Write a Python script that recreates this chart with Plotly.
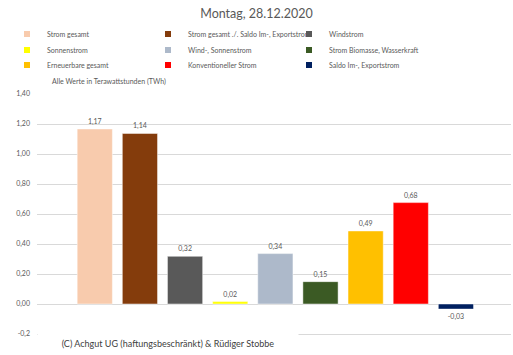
import plotly.graph_objects as go

series_names = [
    "Strom gesamt",
    "Strom gesamt ./. Saldo Im-, Exportstrom",
    "Windstrom",
    "Sonnenstrom",
    "Wind-, Sonnenstrom",
    "Strom Biomasse, Wasserkraft",
    "Erneuerbare gesamt",
    "Konventioneller Strom",
    "Saldo Im-, Exportstrom",
]
values = [1.167, 1.137, 0.318, 0.016, 0.336, 0.149, 0.487, 0.676, -0.034]
colors = ["#F8CBAD", "#843C0C", "#595959", "#FFFF00", "#ADB9CA",
          "#3B5A24", "#FFC000", "#FF0000", "#002060"]
tick_vals = [-0.2, 0.0, 0.2, 0.4, 0.6, 0.8, 1.0, 1.2, 1.4]
tick_text = ["-0,2", "0,00", "0,20", "0,40", "0,60", "0,80", "1,00", "1,20", "1,40"]

FONT = "Lato"
GREY = "#595959"
legend_ids = ["legend", "legend2", "legend3"]
legend_rows_px = [34, 50, 65]

fig = go.Figure()
for i, (name, v, c) in enumerate(zip(series_names, values, colors)):
    fig.add_trace(go.Bar(
        x=[i], y=[v], name=name, width=0.78,
        marker=dict(color=c, line=dict(color="rgba(255,255,255,0.6)", width=0.8)),
        texttemplate="%{y:.2f}", textposition="outside", cliponaxis=False,
        textfont=dict(size=7, color=GREY, family=FONT),
        showlegend=False, hoverinfo="skip",
    ))
    fig.add_trace(go.Scatter(
        x=[None], y=[None], mode="markers", name=name,
        legend=legend_ids[i // 3],
        marker=dict(symbol="square", size=6, color=c),
    ))

legend_common = dict(orientation="h", xref="container", yref="container",
                     x=7 / 513, xanchor="left", yanchor="middle",
                     entrywidth=96, entrywidthmode="pixels",
                     font=dict(size=7, color=GREY, family=FONT),
                     bgcolor="rgba(0,0,0,0)", itemclick=False,
                     itemdoubleclick=False)

fig.update_layout(
    width=513, height=355,
    margin=dict(l=37, r=2, t=94, b=21, autoexpand=False),
    paper_bgcolor="white", plot_bgcolor="white",
    separators=",.",
    barmode="overlay",
    font=dict(family=FONT, color=GREY, size=7),
    title=dict(text="Montag, 28.12.2020", x=0.5, xanchor="center",
               xref="container", yref="container",
               y=1 - 14 / 355, yanchor="middle",
               font=dict(size=12.5, color=GREY, family=FONT)),
    legend=dict(legend_common, y=1 - legend_rows_px[0] / 355),
    legend2=dict(legend_common, y=1 - legend_rows_px[1] / 355),
    legend3=dict(legend_common, y=1 - legend_rows_px[2] / 355),
    xaxis=dict(range=[-1.28, 9.22], showticklabels=False, showgrid=False,
               zeroline=False, fixedrange=True,
               showline=True, linecolor="#D9D9D9", linewidth=1),
    yaxis=dict(range=[-0.2, 1.4], tickvals=tick_vals, ticktext=tick_text,
               showgrid=True, gridcolor="#D9D9D9", gridwidth=1,
               zeroline=True, zerolinecolor="#D9D9D9", zerolinewidth=1,
               tickfont=dict(size=7, color=GREY, family=FONT),
               ticks="", ticklabelstandoff=6, fixedrange=True),
)

fig.add_annotation(
    text="Alle Werte in Terawattstunden (TWh)", xref="paper", yref="paper",
    x=(50 - 37) / 474, y=(334 - 81) / 240, xanchor="left", yanchor="middle",
    showarrow=False, font=dict(size=7, color=GREY, family=FONT),
)
fig.add_annotation(
    text="(C) Achgut UG (haftungsbeschränkt) & Rüdiger Stobbe",
    xref="paper", yref="paper", x=0, y=(334 - 332) / 240,
    xanchor="left", yanchor="top", showarrow=False, align="center",
    width=258, height=19, bgcolor="white",
    font=dict(size=9, color="#404040", family=FONT),
)

fig.write_html("out.html", config={"displayModeBar": False},
               post_script="document.body.style.margin='0';")
